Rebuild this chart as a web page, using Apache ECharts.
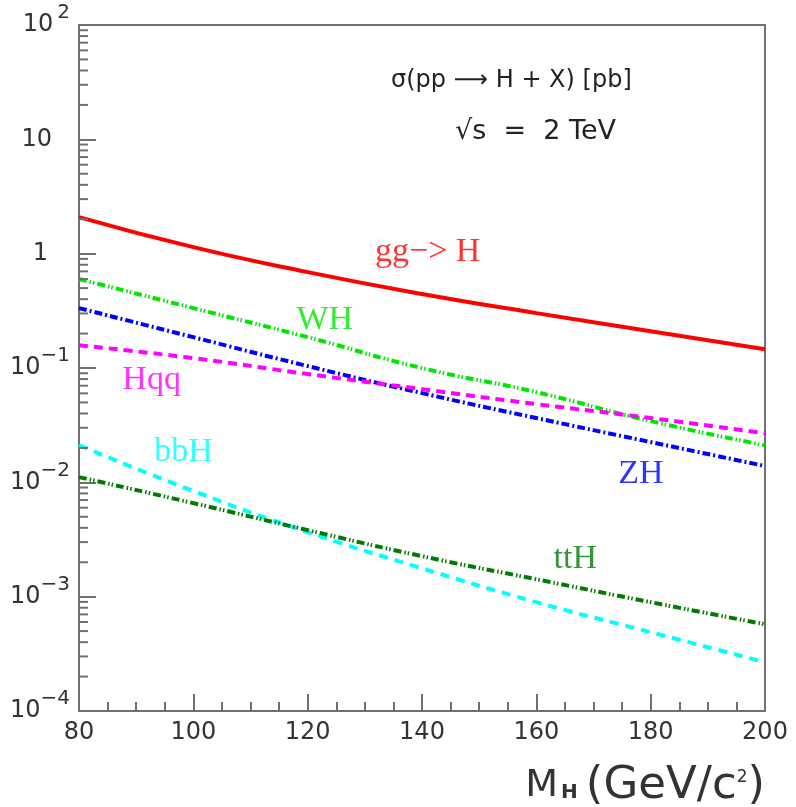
<!DOCTYPE html>
<html>
<head>
<meta charset="utf-8">
<script src="https://cdn.jsdelivr.net/npm/echarts@6/dist/echarts.min.js"></script>
<style>
  html, body { margin: 0; padding: 0; background: #fff; }
  #chart { width: 796px; height: 807px; }
</style>
</head>
<body>
<div id="chart"></div>
<script>
// Higgs mass (GeV/c^2)
const massPoints = [80, 100, 120, 140, 160, 180, 200];
// cross sections in pb
const ggH = [2.09, 1.14, 0.69, 0.444, 0.302, 0.21, 0.146];
const WH  = [0.60, 0.334, 0.186, 0.0998, 0.0615, 0.0343, 0.0211];
const ZH  = [0.334, 0.186, 0.104, 0.0603, 0.0365, 0.0225, 0.0139];
const Hqq = [0.158, 0.122, 0.0885, 0.0653, 0.0483, 0.0365, 0.0269];
const bbH = [0.0211, 0.0084, 0.00367, 0.00177, 0.000895, 0.000489, 0.000267];
const ttH = [0.0111, 0.00658, 0.00382, 0.00226, 0.00142, 0.000895, 0.000574];

// curve labels
const curveLabels = ['gg\u2212> H', 'WH', 'Hqq', 'bbH', 'ZH', 'ttH'];
const curveLabelX = [141, 123, 92.7, 98.3, 178.3, 166.8];
const curveLabelY = [1.03, 0.262, 0.0783, 0.0184, 0.0118, 0.00213];
const curveColors = ['#ff0000', '#00e600', '#ff00ff', '#00ffff', '#0000ff', '#007a00'];

// log axis decades, minor ticks at 2..9 x decade
const yDecades = [1e-4, 1e-3, 1e-2, 1e-1, 1, 10];
const yMinorTicks = yDecades.flatMap(d => [2, 3, 4, 5, 6, 7, 8, 9].map(k => k * d));

const axisGray = '#707070';
const tickFont = 'DejaVu Sans';

function pairs(ys) {
  return massPoints.map((m, i) => [m, ys[i]]);
}

function curve(name, ys, color, type) {
  return {
    name: name,
    type: 'line',
    data: pairs(ys),
    smooth: 0.5,
    showSymbol: false,
    silent: true,
    lineStyle: { color: color, width: 4, type: type, cap: 'butt' },
    z: 2
  };
}

const chart = echarts.init(document.getElementById('chart'));

chart.setOption({
  animation: false,
  title: [
    {
      text: '\u03c3(pp \u27f6 H + X) [pb]',
      left: 386, top: 64,
      textStyle: { fontFamily: tickFont, fontSize: 24, fontWeight: 'normal', color: '#222' }
    },
    {
      text: '\u221as  =  2 TeV',
      left: 450, top: 113,
      textStyle: { fontFamily: tickFont, fontSize: 27, fontWeight: 'normal', color: '#222' }
    }
  ],
  grid: {
    left: 79, right: 31, top: 25, bottom: 96,
    outerBoundsMode: 'none',
    containLabel: false,
    show: true, borderColor: axisGray, borderWidth: 2, backgroundColor: 'transparent'
  },
  xAxis: {
    type: 'value',
    min: 80, max: 200, interval: 20,
    axisLine: { show: true, onZero: false, lineStyle: { color: axisGray, width: 2 } },
    axisTick: { show: true, inside: true, length: 17, lineStyle: { color: axisGray, width: 2 } },
    minorTick: { show: true, splitNumber: 4, length: 9, lineStyle: { color: axisGray, width: 2 } },
    splitLine: { show: false },
    axisLabel: { margin: 10, fontFamily: tickFont, fontSize: 24, color: '#333' },
    name: '{m|M}{h|H}{sp|}{g|(GeV/c}{s|2}{g|)}',
    nameLocation: 'end',
    nameGap: 0,
    nameTextStyle: {
      align: 'right', verticalAlign: 'top', padding: [58, 0, 0, 0],
      rich: {
        m: { fontFamily: tickFont, fontSize: 38, color: '#333', lineHeight: 34 },
        h: { fontFamily: tickFont, fontSize: 20, fontWeight: 'bold', color: '#333', lineHeight: 14, verticalAlign: 'bottom', padding: [0, 0, 0, 3] },
        sp: { width: 8 },
        g: { fontFamily: tickFont, fontSize: 45, color: '#333', lineHeight: 34 },
        s: { fontFamily: tickFont, fontSize: 17, color: '#333', lineHeight: 20, verticalAlign: 'top' }
      }
    }
  },
  yAxis: {
    type: 'log',
    logBase: 10,
    min: 1e-4, max: 100,
    splitNumber: 6,
    axisLine: { show: true, lineStyle: { color: axisGray, width: 2 } },
    axisTick: { show: true, inside: true, length: 17, lineStyle: { color: axisGray, width: 2 } },
    splitLine: { show: false },
    axisLabel: {
      margin: 9,
      formatter: function (v) {
        const e = Math.round(Math.log10(v));
        if (e === 0) return '{b|1}{p1|}';
        if (e === 1) return '{b|10}{p2|}';
        if (e > 0) return '{b|10}{sp|}{s|' + e + '}';
        return '{b|10}{s|\u2212' + (-e) + '}';
      },
      rich: {
        b: { fontFamily: tickFont, fontSize: 24, color: '#333', lineHeight: 44 },
        s: { fontFamily: tickFont, fontSize: 20, color: '#333', lineHeight: 14, verticalAlign: 'top' },
        sp: { width: 4 },
        p1: { width: 22 },
        p2: { width: 18 }
      }
    }
  },
  series: [
    curve('gg->H', ggH, curveColors[0], 'solid'),
    curve('WH', WH, curveColors[1], [8, 3, 1.5, 2, 1.5, 3]),
    curve('ZH', ZH, curveColors[4], [8, 3, 2, 3]),
    curve('Hqq', Hqq, curveColors[2], [9, 6]),
    curve('bbH', bbH, curveColors[3], [9, 7]),
    curve('ttH', ttH, curveColors[5], [8, 3, 1.5, 2, 1.5, 3]),
    {
      // minor ticks of the log axis
      type: 'custom',
      silent: true,
      data: yMinorTicks.map(v => [80, v]),
      renderItem: function (params, api) {
        const p = api.coord([80, api.value(1)]);
        return {
          type: 'line',
          shape: { x1: p[0], y1: p[1], x2: p[0] + 9, y2: p[1] },
          style: { stroke: axisGray, lineWidth: 2 }
        };
      },
      z: 3
    },
    {
      type: 'scatter',
      silent: true,
      symbolSize: 1,
      itemStyle: { color: 'transparent' },
      data: curveLabels.map((n, i) => ({
        name: n,
        value: [curveLabelX[i], curveLabelY[i]],
        label: { color: curveColors[i] }
      })),
      label: {
        show: true,
        position: 'inside',
        formatter: '{b}',
        fontFamily: 'Liberation Serif',
        fontSize: 34
      },
      z: 4
    }
  ]
});
</script>
</body>
</html>
